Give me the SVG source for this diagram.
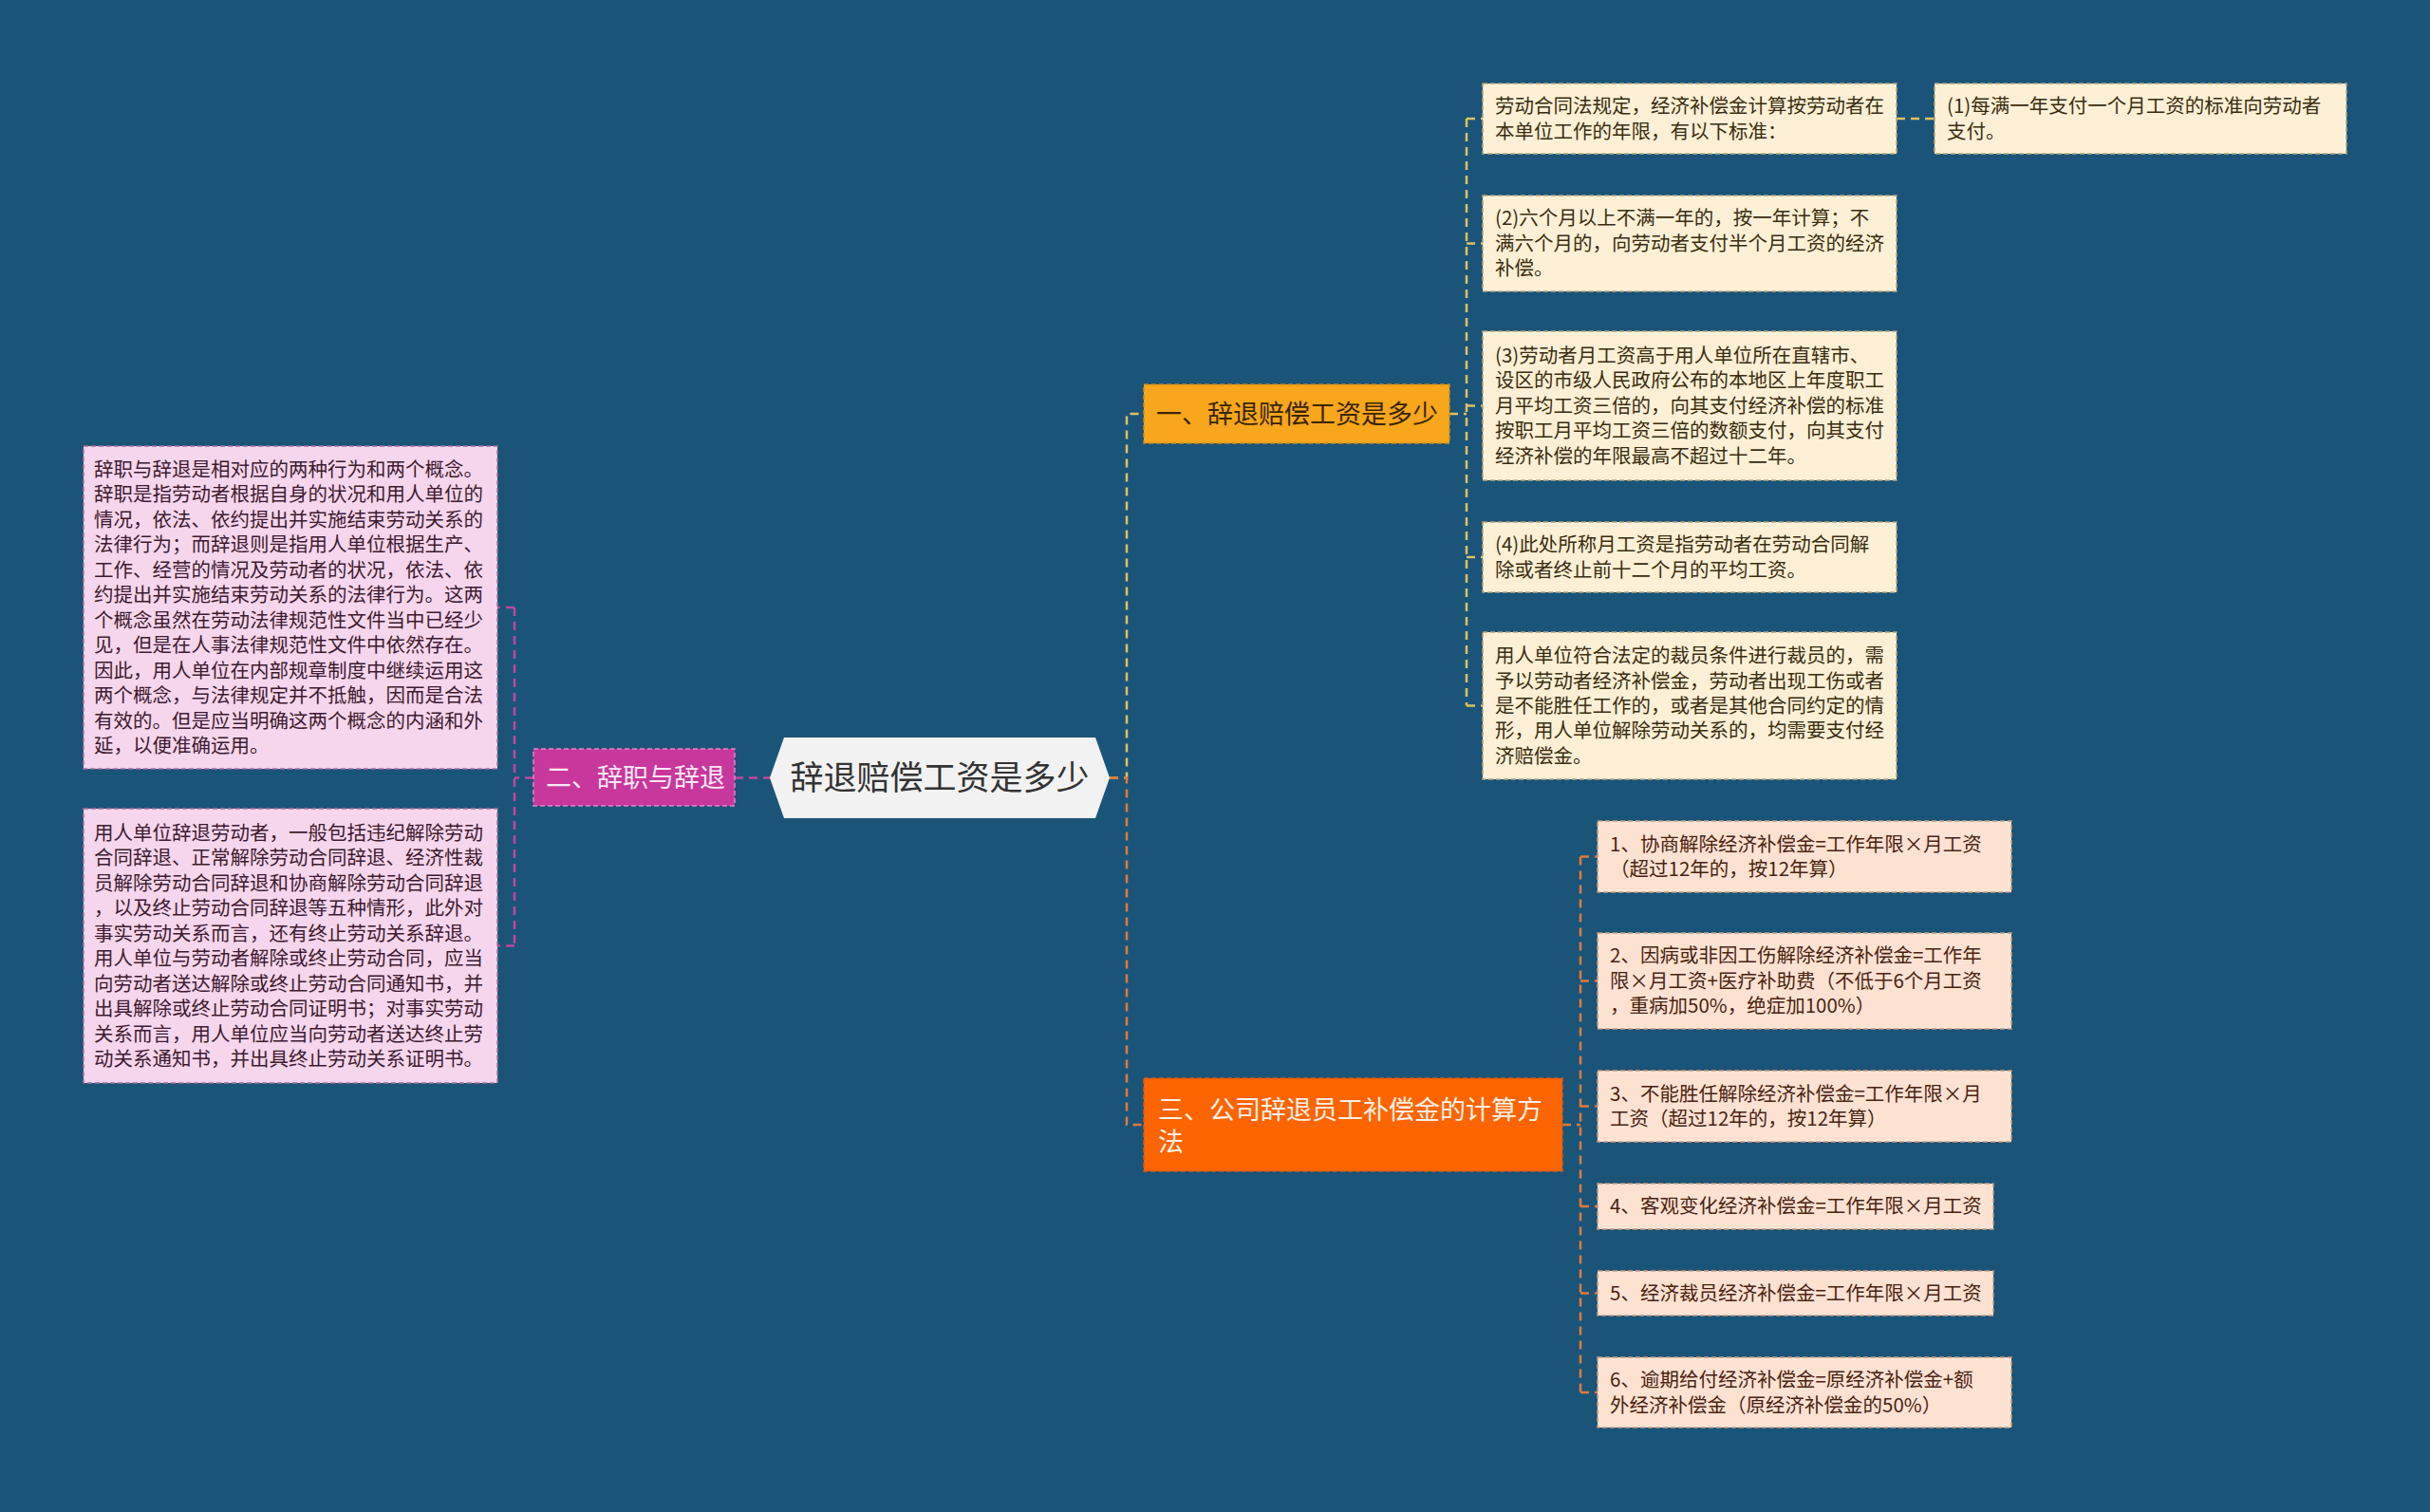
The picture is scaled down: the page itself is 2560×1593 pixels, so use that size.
<svg xmlns="http://www.w3.org/2000/svg" width="2560" height="1593" viewBox="0 0 2560 1593">
<style>
text{font-family:"Noto Sans CJK SC","Noto Sans",sans-serif;}
.t{font-size:20.5px;}
.big{font-size:27px;}
.ctr{font-size:35px;fill:#333333;}
.c1{fill:none;stroke:#e0c060;stroke-width:2.5;stroke-dasharray:9,6;}
.c2{fill:none;stroke:#c0479f;stroke-width:2.5;stroke-dasharray:9,6;}
.c3{fill:none;stroke:#e07a3a;stroke-width:2.5;stroke-dasharray:9,6;}
.cream{fill:#fdf0d6;stroke:#b8a27a;stroke-width:1.5;stroke-dasharray:5,3;}
.pink{fill:#f5d6ec;stroke:#a8709a;stroke-width:1.5;stroke-dasharray:5,3;}
.peach{fill:#fde2d2;stroke:#c89a80;stroke-width:1.5;stroke-dasharray:5,3;}
.tc{fill:#3a2c10;}
.tp{fill:#3d1a30;}
.te{fill:#4a2210;}
</style>
<rect width="2560" height="1593" fill="#1b5479"/>
<g id="connectors">
<path class="c1" d="M1169,819.5 H1187 V436 H1205"/>
<path class="c3" d="M1169,819.5 H1187 V1185 H1205"/>
<path class="c2" d="M813,819.5 H774"/>
<path class="c2" d="M562,819.5 H542 M542,640 V996.5 M542,640 H524 M542,996.5 H524"/>
<path class="c1" d="M1527,436 H1545 M1545,125 V743.5 M1545,125 H1562 M1545,256.5 H1562 M1545,427.5 H1562 M1545,587 H1562 M1545,743.5 H1562 M1998,125 H2038"/>
<path class="c3" d="M1646,1185 H1665 M1665,902.5 V1467 M1665,902.5 H1683 M1665,1033.5 H1683 M1665,1165.5 H1683 M1665,1271 H1683 M1665,1362.5 H1683 M1665,1467 H1683"/>
</g>
<g id="root">
<polygon points="811,819.5 826,777 1154,777 1169,819.5 1154,862 826,862" fill="#f2f2f2"/>
<text class="ctr" x="990" y="832" text-anchor="middle">辞退赔偿工资是多少</text>
</g>
<g id="branch2">
<rect x="562" y="789" width="212" height="60" fill="#c8379c" stroke="#e585c8" stroke-width="1.5" stroke-dasharray="5,3"/>
<text class="big" x="575" y="829" fill="#fce8f4">二、辞职与辞退</text>
</g>
<g id="b2c1">
<rect class="pink" x="88" y="470" width="436" height="340"/>
<text class="t tp">
<tspan x="99" y="501.6">辞职与辞退是相对应的两种行为和两个概念。</tspan>
<tspan x="99" y="528.1">辞职是指劳动者根据自身的状况和用人单位的</tspan>
<tspan x="99" y="554.6">情况，依法、依约提出并实施结束劳动关系的</tspan>
<tspan x="99" y="581.1">法律行为；而辞退则是指用人单位根据生产、</tspan>
<tspan x="99" y="607.6">工作、经营的情况及劳动者的状况，依法、依</tspan>
<tspan x="99" y="634.1">约提出并实施结束劳动关系的法律行为。这两</tspan>
<tspan x="99" y="660.6">个概念虽然在劳动法律规范性文件当中已经少</tspan>
<tspan x="99" y="687.1">见，但是在人事法律规范性文件中依然存在。</tspan>
<tspan x="99" y="713.6">因此，用人单位在内部规章制度中继续运用这</tspan>
<tspan x="99" y="740.1">两个概念，与法律规定并不抵触，因而是合法</tspan>
<tspan x="99" y="766.6">有效的。但是应当明确这两个概念的内涵和外</tspan>
<tspan x="99" y="793.1">延，以便准确运用。</tspan>
</text>
</g>
<g id="b2c2">
<rect class="pink" x="88" y="852" width="436" height="289"/>
<text class="t tp">
<tspan x="99" y="884.6">用人单位辞退劳动者，一般包括违纪解除劳动</tspan>
<tspan x="99" y="911.1">合同辞退、正常解除劳动合同辞退、经济性裁</tspan>
<tspan x="99" y="937.6">员解除劳动合同辞退和协商解除劳动合同辞退</tspan>
<tspan x="99" y="964.1">，以及终止劳动合同辞退等五种情形，此外对</tspan>
<tspan x="99" y="990.6">事实劳动关系而言，还有终止劳动关系辞退。</tspan>
<tspan x="99" y="1017.1">用人单位与劳动者解除或终止劳动合同，应当</tspan>
<tspan x="99" y="1043.6">向劳动者送达解除或终止劳动合同通知书，并</tspan>
<tspan x="99" y="1070.1">出具解除或终止劳动合同证明书；对事实劳动</tspan>
<tspan x="99" y="1096.6">关系而言，用人单位应当向劳动者送达终止劳</tspan>
<tspan x="99" y="1123.1">动关系通知书，并出具终止劳动关系证明书。</tspan>
</text>
</g>
<g id="branch1">
<rect x="1205" y="405" width="322" height="62" fill="#f8a61c" stroke="#c88a20" stroke-width="1.5" stroke-dasharray="5,3"/>
<text class="big" x="1218" y="445.5" fill="#3a2600">一、辞退赔偿工资是多少</text>
</g>
<g id="b1c1">
<rect class="cream" x="1562" y="88" width="436" height="74"/>
<text class="t tc"><tspan x="1575" y="119.1">劳动合同法规定，经济补偿金计算按劳动者在</tspan><tspan x="1575" y="145.5">本单位工作的年限，有以下标准：</tspan></text>
</g>
<g id="b1c1a">
<rect class="cream" x="2038" y="88" width="434" height="74"/>
<text class="t tc"><tspan x="2051" y="119.1">(1)每满一年支付一个月工资的标准向劳动者</tspan><tspan x="2051" y="145.5">支付。</tspan></text>
</g>
<g id="b1c2">
<rect class="cream" x="1562" y="206" width="436" height="101"/>
<text class="t tc"><tspan x="1575" y="237.4">(2)六个月以上不满一年的，按一年计算；不</tspan><tspan x="1575" y="263.8">满六个月的，向劳动者支付半个月工资的经济</tspan><tspan x="1575" y="290.2">补偿。</tspan></text>
</g>
<g id="b1c3">
<rect class="cream" x="1562" y="349" width="436" height="157"/>
<text class="t tc"><tspan x="1575" y="382">(3)劳动者月工资高于用人单位所在直辖市、</tspan><tspan x="1575" y="408.4">设区的市级人民政府公布的本地区上年度职工</tspan><tspan x="1575" y="434.8">月平均工资三倍的，向其支付经济补偿的标准</tspan><tspan x="1575" y="461.2">按职工月平均工资三倍的数额支付，向其支付</tspan><tspan x="1575" y="487.6">经济补偿的年限最高不超过十二年。</tspan></text>
</g>
<g id="b1c4">
<rect class="cream" x="1562" y="550" width="436" height="74"/>
<text class="t tc"><tspan x="1575" y="581.1">(4)此处所称月工资是指劳动者在劳动合同解</tspan><tspan x="1575" y="607.5">除或者终止前十二个月的平均工资。</tspan></text>
</g>
<g id="b1c5">
<rect class="cream" x="1562" y="666" width="436" height="155"/>
<text class="t tc"><tspan x="1575" y="698.1">用人单位符合法定的裁员条件进行裁员的，需</tspan><tspan x="1575" y="724.5">予以劳动者经济补偿金，劳动者出现工伤或者</tspan><tspan x="1575" y="750.9">是不能胜任工作的，或者是其他合同约定的情</tspan><tspan x="1575" y="777.3">形，用人单位解除劳动关系的，均需要支付经</tspan><tspan x="1575" y="803.7">济赔偿金。</tspan></text>
</g>
<g id="branch3">
<rect x="1205" y="1136" width="441" height="98" fill="#fd6402" stroke="#d65a10" stroke-width="1.5" stroke-dasharray="5,3"/>
<text class="big" fill="#fff0e6"><tspan x="1220" y="1178.5">三、公司辞退员工补偿金的计算方</tspan><tspan x="1220" y="1212.5">法</tspan></text>
</g>
<g id="b3c1">
<rect class="peach" x="1683" y="865" width="436" height="75"/>
<text class="t te"><tspan x="1696" y="896.6">1、协商解除经济补偿金=工作年限×月工资</tspan><tspan x="1696" y="923">（超过12年的，按12年算）</tspan></text>
</g>
<g id="b3c2">
<rect class="peach" x="1683" y="983" width="436" height="101"/>
<text class="t te"><tspan x="1696" y="1014.4">2、因病或非因工伤解除经济补偿金=工作年</tspan><tspan x="1696" y="1040.8">限×月工资+医疗补助费（不低于6个月工资</tspan><tspan x="1696" y="1067.2">，重病加50%，绝症加100%）</tspan></text>
</g>
<g id="b3c3">
<rect class="peach" x="1683" y="1128" width="436" height="75"/>
<text class="t te"><tspan x="1696" y="1159.6">3、不能胜任解除经济补偿金=工作年限×月</tspan><tspan x="1696" y="1186">工资（超过12年的，按12年算）</tspan></text>
</g>
<g id="b3c4">
<rect class="peach" x="1683" y="1247" width="417" height="48"/>
<text class="t te" x="1696" y="1278.3">4、客观变化经济补偿金=工作年限×月工资</text>
</g>
<g id="b3c5">
<rect class="peach" x="1683" y="1339" width="417" height="47"/>
<text class="t te" x="1696" y="1369.8">5、经济裁员经济补偿金=工作年限×月工资</text>
</g>
<g id="b3c6">
<rect class="peach" x="1683" y="1430" width="436" height="74"/>
<text class="t te"><tspan x="1696" y="1461.1">6、逾期给付经济补偿金=原经济补偿金+额</tspan><tspan x="1696" y="1487.5">外经济补偿金（原经济补偿金的50%）</tspan></text>
</g>
</svg>
